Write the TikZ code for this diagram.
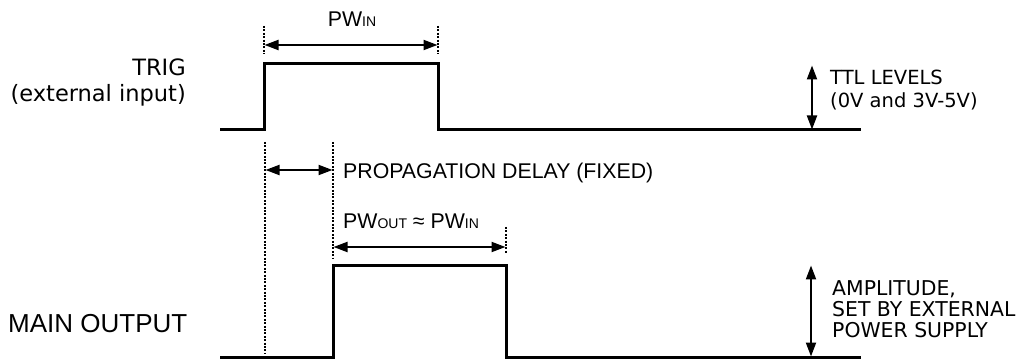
\documentclass[tikz,border=0pt]{standalone}
\usepackage{fontspec}
\setmainfont{Liberation Sans}
\newfontfamily\vfont{DejaVu Sans}
\usetikzlibrary{arrows.meta,positioning}

\newcommand{\pwsub}[1]{{\fontsize{14}{14}\selectfont #1}}

\begin{document}
\begin{tikzpicture}[x=1pt, y=-1pt,
    sig/.style={line width=3pt, line join=miter},
    dim/.style={{Triangle[length=14pt,width=10pt]}-{Triangle[length=14pt,width=10pt]}, line width=2pt, shorten <=0.5pt, shorten >=0.5pt},
    guide/.style={line width=1.3pt, dash pattern=on 2pt off 1.4pt},
    lbl/.style={inner sep=0pt, align=left, font=\fontsize{21.3}{24}\selectfont},
    side/.style={inner sep=0pt, align=right, font=\vfont\fontsize{22.5}{26}\selectfont}]
    \useasboundingbox (0,0) rectangle (1028,363);
    % key instants
    \coordinate (trigup) at (264,130);
    \coordinate (trigdown) at (438,130);
    \coordinate (outup) at (333,357);
    \coordinate (outdown) at (506,357);
    % signals
    \draw[sig] (220,130) -- (trigup) |- (438,64) -- (trigdown) -- (861,130);
    \draw[sig] (220,357) -- (outup) |- (506,266) -- (outdown) -- (861,357);
    % guide lines
    \draw[guide] (264,26) -- (264,54);
    \draw[guide] (438,26) -- (438,54);
    \draw[guide] (265,142) -- (265,353);
    \draw[guide] (333,142) -- (333,258);
    \draw[guide] (506,227) -- (506,254);
    % dimension arrows
    \coordinate (pwa) at (264,45);
    \coordinate (pwb) at (438,45);
    \draw[dim] (pwa) -- (pwb);
    \coordinate (pda) at (265,170);
    \coordinate (pdb) at (333,170);
    \draw[dim] (pda) -- (pdb);
    \coordinate (poa) at (333,247);
    \coordinate (pob) at (506,247);
    \draw[dim] (poa) -- (pob);
    \coordinate (ttla) at (812,65);
    \coordinate (ttlb) at (812,130);
    \draw[dim] (ttla) -- (ttlb);
    \coordinate (ampa) at (811,265);
    \coordinate (ampb) at (811,357);
    \draw[dim] (ampa) -- (ampb);
    % texts
    \node[lbl, anchor=base] (pwin) at (352,27) {PW\pwsub{IN}};
    \node[lbl, anchor=base west] (pdelay) at (343,179) {PROPAGATION DELAY (FIXED)};
    \node[lbl, anchor=base west] (pwout) at (343,229) {PW\pwsub{OUT} ≈ PW\pwsub{IN}};
    \node[side, anchor=north east] (trig) at (186,59) {TRIG\\(external input)};
    \node[inner sep=0pt, anchor=base west, font=\fontsize{26}{28}\selectfont] (mainout) at (8,333) {MAIN OUTPUT};
    \node[inner sep=0pt, align=left, anchor=north west, font=\vfont\fontsize{19.5}{23}\selectfont] (ttl) at (830,70) {TTL LEVELS\\(0V and 3V-5V)};
    \node[inner sep=0pt, align=left, anchor=north west, font=\vfont\fontsize{20.4}{21}\selectfont] (amp) at (832,280) {AMPLITUDE,\\SET BY EXTERNAL\\POWER SUPPLY};
\end{tikzpicture}
\end{document}
